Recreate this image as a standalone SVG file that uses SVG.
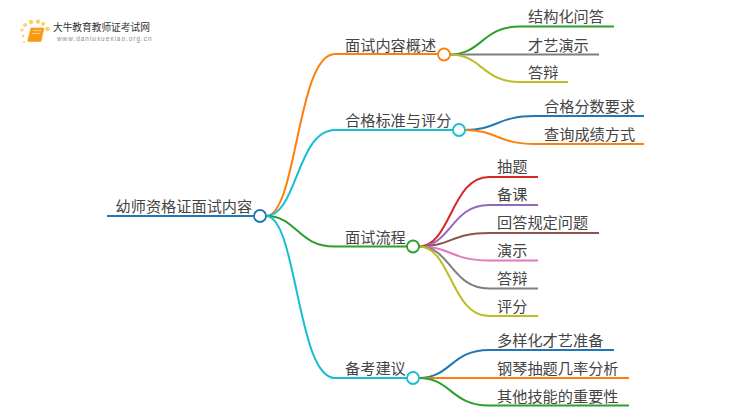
<svg xmlns="http://www.w3.org/2000/svg" width="750" height="410" viewBox="0 0 750 410">
<style>
text{font-family:"Noto Sans CJK SC","Liberation Sans",sans-serif;fill:#444}
.n text{font-size:15.200px}
.c path{fill:none;stroke-width:2}
circle.d{fill:#fff;stroke-width:1.800}
.b{stroke:#1f77b4}.o{stroke:#ff7f0e}.g{stroke:#2ca02c}.r{stroke:#d62728}.p{stroke:#9467bd}.w{stroke:#8c564b}.k{stroke:#e377c2}.y{stroke:#7f7f7f}.l{stroke:#bcbd22}.t{stroke:#17becf}
</style>
<rect width="750" height="410" fill="#fff"/>
<g id="logo">
<g fill="#fbd26a"><circle cx="25" cy="25" r="2"/><circle cx="22" cy="30" r="1.6"/><circle cx="31" cy="22" r="2.2"/><circle cx="38" cy="21.500" r="2.200"/><circle cx="43" cy="24" r="2"/><circle cx="47.500" cy="29" r="2.200"/><circle cx="23" cy="36" r="1.300"/><circle cx="24" cy="42" r="1"/></g>
<path d="M31 28H44L41 41.500H28.500Q27.500 41.500 28 39.500Z" fill="#f79a12" stroke="#f5b041" stroke-width="1"/>
<path d="M33 30.500H41M32 33.500H40" stroke="#ffd27a" stroke-width="1"/>
<text x="53" y="31" style="font-size:9.700px;fill:#333">大牛教育教师证考试网</text>
<text x="57" y="41" style="font-size:6.300px;fill:#888;letter-spacing:1.050px;font-family:'Liberation Sans',sans-serif">www.daniuxuexiao.org.cn</text>
</g>
<g id="connectors" class="c">
<path class="b" d="M107 216H254"/>
<path class="o" d="M266 216C297 216 297 54 335 54H438"/>
<path class="t" d="M266 216C297 216 297 130 335 130H453"/>
<path class="g" d="M266 216C297 216 297 246.500 335 246.500H407"/>
<path class="t" d="M266 216C297 216 297 378 335 378H407"/>
<path class="g" d="M450 54.500C482 54.500 482 26.500 520 26.500H614"/>
<path class="y" d="M450 54.500H599"/>
<path class="l" d="M450 54.500C482 54.500 482 82 520 82H568"/>
<path class="b" d="M465 130C497 130 497 116 535 116H644"/>
<path class="o" d="M465 130C497 130 497 144 535 144H644"/>
<path class="r" d="M419 246.500C451 246.500 451 177 489 177H538"/>
<path class="p" d="M419 246.500C451 246.500 451 205 489 205H538"/>
<path class="w" d="M419 246.500C451 246.500 451 233 489 233H599"/>
<path class="k" d="M419 246.500C451 246.500 451 260.500 489 260.500H538"/>
<path class="y" d="M419 246.500C451 246.500 451 288.500 489 288.500H538"/>
<path class="l" d="M419 246.500C451 246.500 451 316 489 316H538"/>
<path class="b" d="M419 378C451 378 451 350 489 350H614"/>
<path class="o" d="M419 378H629"/>
<path class="g" d="M419 378C451 378 451 405.500 489 405.500H629"/>
</g>
<g id="root" class="n"><text x="115.500" y="212">幼师资格证面试内容</text><circle class="d b" cx="260" cy="216" r="6"/></g>
<g id="n1" class="n"><text x="345" y="50.500">面试内容概述</text><circle class="d o" cx="444" cy="54.500" r="6"/></g>
<g id="n2" class="n"><text x="345" y="125.500">合格标准与评分</text><circle class="d t" cx="459" cy="130" r="6"/></g>
<g id="n3" class="n"><text x="345" y="243">面试流程</text><circle class="d g" cx="413" cy="246.500" r="6"/></g>
<g id="n4" class="n"><text x="345" y="374">备考建议</text><circle class="d t" cx="413" cy="378" r="6"/></g>
<g id="n11" class="n"><text x="528" y="22">结构化问答</text></g>
<g id="n12" class="n"><text x="528" y="51">才艺演示</text></g>
<g id="n13" class="n"><text x="528" y="78">答辩</text></g>
<g id="n21" class="n"><text x="544" y="111.500">合格分数要求</text></g>
<g id="n22" class="n"><text x="544" y="139.500">查询成绩方式</text></g>
<g id="n31" class="n"><text x="497" y="172">抽题</text></g>
<g id="n32" class="n"><text x="497" y="200">备课</text></g>
<g id="n33" class="n"><text x="497" y="228">回答规定问题</text></g>
<g id="n34" class="n"><text x="497" y="256">演示</text></g>
<g id="n35" class="n"><text x="497" y="284">答辩</text></g>
<g id="n36" class="n"><text x="497" y="312">评分</text></g>
<g id="n41" class="n"><text x="497" y="346">多样化才艺准备</text></g>
<g id="n42" class="n"><text x="497" y="374">钢琴抽题几率分析</text></g>
<g id="n43" class="n"><text x="497" y="401.500">其他技能的重要性</text></g>
</svg>
